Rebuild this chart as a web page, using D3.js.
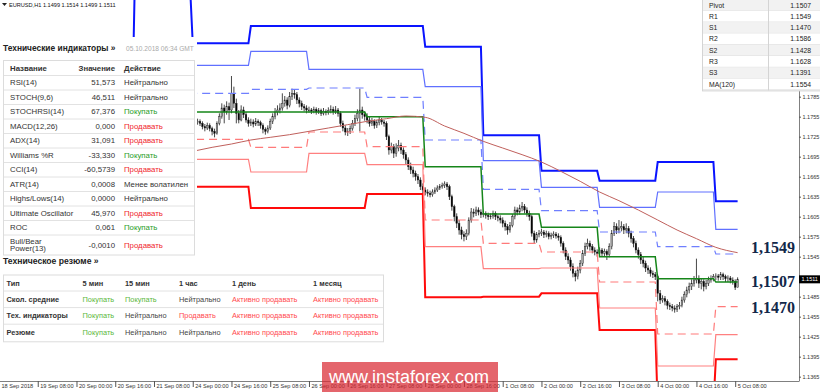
<!DOCTYPE html>
<html>
<head>
<meta charset="utf-8">
<script src="https://cdn.jsdelivr.net/npm/d3@7"></script>
<style>
html, body { margin: 0; padding: 0; background: #fff; }
svg { display: block; font-family: "Liberation Sans", Arial, sans-serif; }
</style>
</head>
<body>
<svg id="chart" width="820" height="392"></svg>
<script>
(function () {

// ---- data ----

// hourly EURUSD bars, first one is 24 Sep 00:00 (bar 80 from 18 Sep 16:00)
var firstBar = 80;
var firstOpen = 1.1752;
var closes = [
	1.1750, 1.1746, 1.1748, 1.1745, 1.1740, 1.1738, 1.1742, 1.1737, 1.1733, 1.1730, 1.1745, 1.1755,
	1.1768, 1.1762, 1.1770, 1.1765, 1.1790, 1.1775, 1.1760, 1.1750, 1.1765, 1.1758, 1.1750, 1.1745,
	1.1747, 1.1744, 1.1748, 1.1746, 1.1742, 1.1736, 1.1733, 1.1738, 1.1748, 1.1755, 1.1762, 1.1765,
	1.1768, 1.1775, 1.1780, 1.1772, 1.1785, 1.1790, 1.1788, 1.1780, 1.1775, 1.1770, 1.1768, 1.1765,
	1.1765, 1.1763, 1.1766, 1.1762, 1.1764, 1.1760, 1.1763, 1.1761, 1.1764, 1.1766, 1.1762, 1.1765,
	1.1760, 1.1745, 1.1738, 1.1732, 1.1733, 1.1737, 1.1745, 1.1752, 1.1760, 1.1765, 1.1758, 1.1755,
	1.1750, 1.1745, 1.1748, 1.1742, 1.1746, 1.1750, 1.1747, 1.1745, 1.1725, 1.1705, 1.1710, 1.1700,
	1.1708, 1.1712, 1.1705, 1.1698, 1.1690, 1.1680, 1.1675, 1.1670, 1.1665, 1.1660, 1.1650, 1.1645,
	1.1642, 1.1640, 1.1638, 1.1642, 1.1645, 1.1648, 1.1650, 1.1652, 1.1654, 1.1650, 1.1635, 1.1620,
	1.1605, 1.1595, 1.1585, 1.1578, 1.1575, 1.1580, 1.1600, 1.1612, 1.1610, 1.1615, 1.1612, 1.1608,
	1.1610, 1.1607, 1.1605, 1.1606, 1.1610, 1.1605, 1.1603, 1.1600, 1.1595, 1.1590, 1.1585, 1.1592,
	1.1605, 1.1615, 1.1612, 1.1618, 1.1620, 1.1615, 1.1610, 1.1605, 1.1580, 1.1570, 1.1578, 1.1580,
	1.1582, 1.1578, 1.1580, 1.1575, 1.1577, 1.1579, 1.1576, 1.1574, 1.1565, 1.1555, 1.1545, 1.1540,
	1.1530, 1.1520, 1.1515, 1.1525, 1.1535, 1.1550, 1.1560, 1.1565, 1.1560, 1.1555, 1.1552, 1.1550,
	1.1555, 1.1550, 1.1553, 1.1548, 1.1560, 1.1580, 1.1590, 1.1585, 1.1588, 1.1590, 1.1585, 1.1587,
	1.1580, 1.1572, 1.1565, 1.1555, 1.1548, 1.1540, 1.1535, 1.1528, 1.1525, 1.1520, 1.1518, 1.1515,
	1.1490, 1.1480, 1.1482, 1.1478, 1.1472, 1.1470, 1.1468, 1.1466, 1.1470, 1.1472, 1.1480, 1.1488,
	1.1495, 1.1500, 1.1505, 1.1510, 1.1512, 1.1505, 1.1508, 1.1500, 1.1505, 1.1510, 1.1512, 1.1515,
	1.1516, 1.1514, 1.1518, 1.1515, 1.1512, 1.1513, 1.1510, 1.1508, 1.1499, 1.1511
];
var highs = [
	1.1756, 1.1753, 1.1752, 1.1751, 1.1748, 1.1744, 1.1746, 1.1745, 1.1740, 1.1737, 1.1748, 1.1760,
	1.1775, 1.1773, 1.1778, 1.1776, 1.1816, 1.1800, 1.1782, 1.1765, 1.1772, 1.1770, 1.1762, 1.1754,
	1.1752, 1.1751, 1.1753, 1.1751, 1.1749, 1.1745, 1.1739, 1.1742, 1.1752, 1.1760, 1.1768, 1.1772,
	1.1775, 1.1790, 1.1786, 1.1784, 1.1792, 1.1797, 1.1795, 1.1792, 1.1784, 1.1779, 1.1774, 1.1772,
	1.1770, 1.1768, 1.1770, 1.1769, 1.1768, 1.1767, 1.1768, 1.1766, 1.1769, 1.1772, 1.1770, 1.1771,
	1.1768, 1.1763, 1.1749, 1.1742, 1.1738, 1.1742, 1.1750, 1.1758, 1.1766, 1.1797, 1.1770, 1.1763,
	1.1760, 1.1755, 1.1753, 1.1751, 1.1750, 1.1755, 1.1753, 1.1750, 1.1748, 1.1728, 1.1716, 1.1714,
	1.1715, 1.1720, 1.1716, 1.1709, 1.1702, 1.1694, 1.1686, 1.1680, 1.1674, 1.1669, 1.1664, 1.1655,
	1.1649, 1.1646, 1.1644, 1.1646, 1.1649, 1.1652, 1.1654, 1.1656, 1.1658, 1.1657, 1.1653, 1.1638,
	1.1623, 1.1610, 1.1600, 1.1590, 1.1583, 1.1586, 1.1604, 1.1618, 1.1617, 1.1620, 1.1619, 1.1616,
	1.1614, 1.1613, 1.1611, 1.1610, 1.1614, 1.1613, 1.1608, 1.1607, 1.1604, 1.1599, 1.1594, 1.1597,
	1.1609, 1.1620, 1.1619, 1.1623, 1.1627, 1.1624, 1.1619, 1.1614, 1.1608, 1.1584, 1.1582, 1.1585,
	1.1587, 1.1585, 1.1584, 1.1583, 1.1581, 1.1583, 1.1582, 1.1580, 1.1577, 1.1568, 1.1559, 1.1550,
	1.1544, 1.1535, 1.1524, 1.1530, 1.1540, 1.1555, 1.1566, 1.1572, 1.1569, 1.1564, 1.1559, 1.1556,
	1.1559, 1.1558, 1.1557, 1.1556, 1.1565, 1.1585, 1.1597, 1.1595, 1.1600, 1.1598, 1.1594, 1.1595,
	1.1591, 1.1584, 1.1576, 1.1569, 1.1559, 1.1552, 1.1545, 1.1539, 1.1532, 1.1529, 1.1524, 1.1522,
	1.1518, 1.1495, 1.1487, 1.1486, 1.1481, 1.1476, 1.1474, 1.1472, 1.1474, 1.1477, 1.1485, 1.1493,
	1.1500, 1.1506, 1.1511, 1.1516, 1.1542, 1.1517, 1.1513, 1.1511, 1.1510, 1.1515, 1.1517, 1.1519,
	1.1520, 1.1519, 1.1522, 1.1521, 1.1518, 1.1517, 1.1516, 1.1514, 1.1511, 1.1514
];
var lows = [
	1.1745, 1.1742, 1.1743, 1.1741, 1.1736, 1.1733, 1.1735, 1.1733, 1.1727, 1.1724, 1.1728, 1.1742,
	1.1752, 1.1745, 1.1758, 1.1750, 1.1760, 1.1768, 1.1745, 1.1745, 1.1748, 1.1753, 1.1746, 1.1740,
	1.1741, 1.1739, 1.1741, 1.1741, 1.1737, 1.1730, 1.1728, 1.1730, 1.1735, 1.1744, 1.1751, 1.1757,
	1.1760, 1.1764, 1.1770, 1.1766, 1.1769, 1.1780, 1.1782, 1.1774, 1.1769, 1.1765, 1.1763, 1.1760,
	1.1761, 1.1759, 1.1760, 1.1758, 1.1759, 1.1756, 1.1757, 1.1757, 1.1758, 1.1760, 1.1758, 1.1759,
	1.1755, 1.1740, 1.1733, 1.1727, 1.1726, 1.1729, 1.1734, 1.1741, 1.1748, 1.1733, 1.1752, 1.1749,
	1.1745, 1.1740, 1.1741, 1.1737, 1.1738, 1.1742, 1.1743, 1.1740, 1.1720, 1.1698, 1.1700, 1.1693,
	1.1695, 1.1703, 1.1699, 1.1692, 1.1684, 1.1675, 1.1669, 1.1664, 1.1659, 1.1654, 1.1645, 1.1639,
	1.1637, 1.1635, 1.1634, 1.1635, 1.1639, 1.1642, 1.1645, 1.1647, 1.1648, 1.1645, 1.1630, 1.1614,
	1.1598, 1.1588, 1.1578, 1.1571, 1.1568, 1.1570, 1.1577, 1.1596, 1.1604, 1.1606, 1.1607, 1.1603,
	1.1604, 1.1602, 1.1600, 1.1601, 1.1602, 1.1600, 1.1598, 1.1595, 1.1589, 1.1584, 1.1578, 1.1581,
	1.1589, 1.1601, 1.1607, 1.1608, 1.1613, 1.1610, 1.1605, 1.1599, 1.1575, 1.1565, 1.1566, 1.1574,
	1.1576, 1.1573, 1.1574, 1.1571, 1.1571, 1.1573, 1.1572, 1.1569, 1.1560, 1.1550, 1.1540, 1.1534,
	1.1524, 1.1514, 1.1508, 1.1511, 1.1520, 1.1531, 1.1546, 1.1556, 1.1554, 1.1550, 1.1547, 1.1545,
	1.1546, 1.1545, 1.1546, 1.1540, 1.1544, 1.1556, 1.1576, 1.1579, 1.1580, 1.1583, 1.1579, 1.1580,
	1.1574, 1.1566, 1.1559, 1.1550, 1.1542, 1.1534, 1.1529, 1.1522, 1.1519, 1.1515, 1.1513, 1.1510,
	1.1478, 1.1474, 1.1476, 1.1472, 1.1466, 1.1465, 1.1463, 1.1461, 1.1462, 1.1466, 1.1469, 1.1476,
	1.1484, 1.1490, 1.1495, 1.1500, 1.1505, 1.1498, 1.1496, 1.1493, 1.1496, 1.1501, 1.1506, 1.1508,
	1.1510, 1.1509, 1.1510, 1.1510, 1.1507, 1.1507, 1.1505, 1.1503, 1.1495, 1.1499
];

// daily pivot levels, one value per trading day (20 Sep .. 5 Oct)
var dayStarts = [32, 56, 80, 104, 128, 152, 176, 200, 224, 248, 272, 296];
var pivotP  = [1.1670, 1.1743, 1.1762, 1.1762, 1.1762, 1.1755, 1.1680, 1.1609, 1.1589, 1.1545, 1.1512, 1.1507];
var pivotR1 = [1.1700, 1.1820, 1.1790, 1.1796, 1.1798, 1.1784, 1.1720, 1.1646, 1.1614, 1.1582, 1.1560, 1.1549];
var pivotR2 = [1.1730, 1.1865, 1.1832, 1.1853, 1.1826, 1.1826, 1.1800, 1.1689, 1.1649, 1.1619, 1.1642, 1.1586];
var pivotR3 = [1.1760, 1.1942, 1.1865, 1.1891, 1.1891, 1.1891, 1.1860, 1.1727, 1.1674, 1.1659, 1.1687, 1.1628];
var pivotS1 = [1.1640, 1.1698, 1.1721, 1.1709, 1.1732, 1.1710, 1.1600, 1.1565, 1.1552, 1.1507, 1.1429, 1.1470];
var pivotS2 = [1.1610, 1.1621, 1.1691, 1.1672, 1.1700, 1.1683, 1.1560, 1.1527, 1.1528, 1.1468, 1.1381, 1.1428];
var pivotS3 = [1.1580, 1.1576, 1.1650, 1.1618, 1.1618, 1.1639, 1.1484, 1.1485, 1.1490, 1.1435, 1.1320, 1.1391];

// MA(120) read at every 8th bar
var maBars   = [80, 88, 96, 104, 112, 120, 128, 136, 144, 152, 160, 168, 176, 184, 192, 200, 208,
	216, 224, 232, 240, 248, 256, 264, 272, 280, 288, 296, 305];
var maValues = [1.1703, 1.1709, 1.1714, 1.1720, 1.1724, 1.1728, 1.1733, 1.1738, 1.1743, 1.1748, 1.1752,
	1.1756, 1.1754, 1.1741, 1.1730, 1.1718, 1.1708, 1.1698, 1.1687, 1.1673, 1.1658, 1.1642, 1.1629,
	1.1615, 1.1600, 1.1585, 1.1572, 1.1559, 1.1551];

var levelLabels = [1.1549, 1.1507, 1.1470];
var lastPrice = 1.1511;

// price labels visible on the axis (others sit under the pivot table / price marker)
var yTicks = [1.1365, 1.1395, 1.1425, 1.1455, 1.1485, 1.1545, 1.1575, 1.1605, 1.1635,
	1.1665, 1.1695, 1.1725, 1.1755, 1.1785];
var xTickLabels = ['18 Sep 2018', '19 Sep 08:00', '20 Sep 00:00', '20 Sep 16:00', '21 Sep 08:00',
	'24 Sep 00:00', '24 Sep 16:00', '25 Sep 08:00', '26 Sep 00:00', '26 Sep 16:00', '27 Sep 08:00',
	'28 Sep 00:00', '28 Sep 16:00', '1 Oct 08:00', '2 Oct 00:00', '2 Oct 16:00', '3 Oct 08:00',
	'4 Oct 00:00', '4 Oct 16:00', '5 Oct 08:00'];

// technical indicators panel
var indNames = ['RSI(14)', 'STOCH(9,6)', 'STOCHRSI(14)', 'MACD(12,26)', 'ADX(14)', 'Williams %R',
	'CCI(14)', 'ATR(14)', 'Highs/Lows(14)', 'Ultimate Oscillator', 'ROC', 'Bull/Bear|Power(13)'];
var indValues = ['51,573', '46,511', '67,376', '0,000', '31,091', '-33,330', '-60,5739', '0,0008',
	'0,0000', '45,970', '0,061', '-0,0010'];
var indActions = ['Нейтрально', 'Нейтрально', 'Покупать', 'Продавать', 'Продавать', 'Покупать',
	'Продавать', 'Менее волатилен', 'Нейтрально', 'Продавать', 'Покупать', 'Продавать'];

// technical summary panel
var sumHeader = ['Тип', '5 мин', '15 мин', '1 час', '1 день', '1 месяц'];
var sumRows = ['Скол. средние', 'Тех. индикаторы', 'Резюме'];
var sumMA    = ['Покупать', 'Покупать', 'Нейтрально', 'Активно продавать', 'Активно продавать'];
var sumTech  = ['Покупать', 'Нейтрально', 'Продавать', 'Активно продавать', 'Активно продавать'];
var sumTotal = ['Покупать', 'Нейтрально', 'Нейтрально', 'Активно продавать', 'Активно продавать'];

// pivot table (top right)
var pivotNames = ['Pivot', 'R1', 'S1', 'R2', 'S2', 'R3', 'S3', 'MA(120)'];
var pivotVals = [1.1507, 1.1549, 1.1470, 1.1586, 1.1428, 1.1628, 1.1391, 1.1554];

// ---- drawing ----

var svg = d3.select('#chart');
var plotRight = 799, plotBottom = 381;
var sans = '"Liberation Sans", Arial, sans-serif';

var x = d3.scaleLinear().domain([0, 304]).range([-1, 735.2]);
var y = d3.scaleLinear().domain([1.13585, 1.1930]).range([plotBottom, 0]);

svg.append('defs').append('clipPath').attr('id', 'plotclip')
	.append('rect').attr('x', 0).attr('y', 0).attr('width', plotRight).attr('height', plotBottom);

var plot = svg.append('g').attr('clip-path', 'url(#plotclip)');

var bars = closes.map(function (c, k) {
	return { i: firstBar + k, o: k ? closes[k - 1] : firstOpen, h: highs[k], l: lows[k], c: c };
});

var candles = plot.append('g').selectAll('g')
	.data(bars)
	.join('g');
candles.append('line')
	.attr('x1', function (d) { return x(d.i); })
	.attr('x2', function (d) { return x(d.i); })
	.attr('y1', function (d) { return y(d.h); })
	.attr('y2', function (d) { return y(d.l); })
	.attr('stroke', '#333')
	.attr('stroke-width', 0.9);
candles.append('rect')
	.attr('x', function (d) { return x(d.i) - 0.8; })
	.attr('width', 1.6)
	.attr('y', function (d) { return y(Math.max(d.o, d.c)); })
	.attr('height', function (d) { return Math.max(0.8, Math.abs(y(d.o) - y(d.c))); })
	.attr('fill', function (d) { return d.c >= d.o ? '#a8a8a8' : '#000'; })
	.attr('stroke', '#222')
	.attr('stroke-width', 0.4);

var lastBar = firstBar + closes.length - 1;
var stepLine = d3.line()
	.x(function (d) { return x(d[0]); })
	.y(function (d) { return y(d[1]); });

function levelPoints(vals) {
	var pts = [];
	vals.forEach(function (v, d) {
		var end = d + 1 < dayStarts.length ? dayStarts[d + 1] - 1 : lastBar;
		pts.push([dayStarts[d], v], [end, v]);
	});
	return pts;
}

var levels = [
	{ vals: pivotS3, color: '#ff0a0a', width: 2,   dash: null },
	{ vals: pivotS2, color: '#ff8080', width: 1.2, dash: null },
	{ vals: pivotS1, color: '#ff7a7a', width: 1.2, dash: '8,5' },
	{ vals: pivotR3, color: '#0a14ff', width: 2,   dash: null },
	{ vals: pivotR2, color: '#6070ff', width: 1.2, dash: null },
	{ vals: pivotR1, color: '#6f7fff', width: 1.2, dash: '8,5' },
	{ vals: pivotP,  color: '#16861a', width: 1.5, dash: null }
];

plot.append('g').selectAll('path')
	.data(levels)
	.join('path')
	.attr('d', function (d) { return stepLine(levelPoints(d.vals)); })
	.attr('fill', 'none')
	.attr('stroke', function (d) { return d.color; })
	.attr('stroke-width', function (d) { return d.width; })
	.attr('stroke-dasharray', function (d) { return d.dash; });

var maLine = d3.line()
	.x(function (d) { return x(d[0]); })
	.y(function (d) { return y(d[1]); })
	.curve(d3.curveMonotoneX);
plot.append('path')
	.attr('d', maLine(d3.zip(maBars, maValues)))
	.attr('fill', 'none')
	.attr('stroke', '#c0605c')
	.attr('stroke-width', 1);

// big level labels on the right of the plot
var labelShift = [-7, -1, 1];
plot.append('g').selectAll('text')
	.data(levelLabels)
	.join('text')
	.attr('x', 751)
	.attr('y', function (d, i) { return y(d) + labelShift[i]; })
	.attr('dy', '0.35em')
	.attr('font-family', '"Liberation Serif", "Times New Roman", serif')
	.attr('font-weight', 'bold')
	.attr('font-size', 16)
	.attr('fill', '#12284a')
	.text(function (d) { return d.toFixed(4).replace('.', ','); });

// price axis
var yAxis = d3.axisRight(y)
	.tickValues(yTicks)
	.tickSize(2)
	.tickSizeOuter(0)
	.tickPadding(1.5)
	.tickFormat(d3.format('.4f'));
var gy = svg.append('g').attr('transform', 'translate(' + plotRight + ',0)').call(yAxis);
gy.select('.domain').attr('stroke', '#808080');
gy.selectAll('.tick line').attr('stroke', '#555');
gy.selectAll('.tick text')
	.attr('font-family', sans)
	.attr('font-size', 5.5)
	.attr('fill', '#333');

// current price marker
var pm = svg.append('g').attr('transform', 'translate(' + plotRight + ',' + y(lastPrice) + ')');
pm.append('rect').attr('x', 0).attr('y', -4).attr('width', 21).attr('height', 8).attr('fill', '#000');
pm.append('text').attr('x', 2.5).attr('dy', '0.35em')
	.attr('font-family', sans).attr('font-size', 5.5).attr('fill', '#fff')
	.text(lastPrice.toFixed(4));

// time axis
var xAxis = d3.axisBottom(x)
	.tickValues(xTickLabels.map(function (d, i) { return i * 16; }))
	.tickSize(6)
	.tickSizeOuter(0)
	.tickFormat(function (d, i) { return xTickLabels[i]; });
var gx = svg.append('g').attr('transform', 'translate(0,' + plotBottom + ')').call(xAxis);
gx.select('.domain').attr('d', 'M0,0.5H' + plotRight).attr('stroke', '#808080');
gx.selectAll('.tick line').attr('stroke', '#555');
gx.selectAll('.tick text')
	.attr('text-anchor', 'start')
	.attr('x', 2)
	.attr('y', 5)
	.attr('dy', '0.35em')
	.attr('font-family', sans)
	.attr('font-size', 5.6)
	.attr('fill', '#333');

// symbol header
svg.append('path').attr('d', 'M2,3H7L4.5,6Z').attr('fill', '#222');
svg.append('text').attr('x', 9).attr('y', 7)
	.attr('font-family', sans).attr('font-size', 5.6).attr('fill', '#111')
	.text('EURUSD,H1  1.1499 1.1514 1.1499 1.1511');

// ---- technical indicators panel ----
var actionColor = function (a) {
	if (a === 'Покупать') return '#2a9d2a';
	if (a === 'Продавать' || a === 'Активно продавать') return '#f0262c';
	return '#333';
};

var panel = svg.append('g');
panel.append('rect').attr('x', 0).attr('y', 37).attr('width', 197).attr('height', 220).attr('fill', '#fff');
panel.append('rect').attr('x', 0).attr('y', 254).attr('width', 386).attr('height', 89).attr('fill', '#fff');

panel.append('text').attr('x', 3).attr('y', 51)
	.attr('font-size', 8.4).attr('font-weight', 'bold').attr('fill', '#222')
	.text('Технические индикаторы »');
panel.append('text').attr('x', 126).attr('y', 50.5)
	.attr('font-size', 6.6).attr('fill', '#aaa')
	.text('05.10.2018 06:34 GMT');

var t1Top = 60.5, headH = 15, rowH = 14.5;
var t1Bottom = t1Top + headH + rowH * 11 + 20;
panel.append('rect').attr('x', 3.5).attr('y', t1Top).attr('width', 191).attr('height', t1Bottom - t1Top)
	.attr('fill', 'none').attr('stroke', '#dcdcdc');

var head1 = panel.append('g').attr('font-size', 7.8).attr('font-weight', 'bold').attr('fill', '#333');
head1.append('text').attr('x', 10).attr('y', t1Top + headH / 2).attr('dy', '0.35em').text('Название');
head1.append('text').attr('x', 115).attr('y', t1Top + headH / 2).attr('dy', '0.35em')
	.attr('text-anchor', 'end').text('Значение');
head1.append('text').attr('x', 124).attr('y', t1Top + headH / 2).attr('dy', '0.35em').text('Действие');

indNames.forEach(function (name, k) {
	var top = t1Top + headH + k * rowH;
	var h = k === indNames.length - 1 ? 20 : rowH;
	var cy = top + h / 2;
	panel.append('line').attr('x1', 4).attr('x2', 194).attr('y1', top).attr('y2', top)
		.attr('stroke', '#e2e2e2');
	var parts = name.split('|');
	parts.forEach(function (p, j) {
		panel.append('text').attr('x', 10)
			.attr('y', cy + (j - (parts.length - 1) / 2) * 7.5).attr('dy', '0.35em')
			.attr('font-size', 7.8).attr('fill', '#333').text(p);
	});
	panel.append('text').attr('x', 115).attr('y', cy).attr('dy', '0.35em')
		.attr('text-anchor', 'end').attr('font-size', 7.8).attr('fill', '#333').text(indValues[k]);
	panel.append('text').attr('x', 124).attr('y', cy).attr('dy', '0.35em')
		.attr('font-size', 7.8).attr('fill', actionColor(indActions[k])).text(indActions[k]);
});

// ---- technical summary panel ----
panel.append('text').attr('x', 3).attr('y', 264)
	.attr('font-size', 8.6).attr('font-weight', 'bold').attr('fill', '#222')
	.text('Техническое резюме »');

var colX = [6.5, 82.5, 125, 179, 232, 313];
var t2Top = 275, t2Head = 16, t2Row = 16.6;
panel.append('rect').attr('x', 3.5).attr('y', t2Top).attr('width', 380).attr('height', t2Head + t2Row * 3 + 1)
	.attr('fill', 'none').attr('stroke', '#dcdcdc');
sumHeader.forEach(function (h, c) {
	panel.append('text').attr('x', colX[c]).attr('y', t2Top + t2Head / 2 + 0.5).attr('dy', '0.35em')
		.attr('font-size', 7.4).attr('font-weight', 'bold').attr('fill', '#333').text(h);
});
var sumData = [sumMA, sumTech, sumTotal];
var sumColor = function (a) {
	if (a === 'Покупать') return '#5cb83c';
	if (a === 'Продавать' || a === 'Активно продавать') return '#ff4a4f';
	return '#444';
};
sumRows.forEach(function (r, k) {
	var top = t2Top + t2Head + k * t2Row;
	var cy = top + t2Row / 2;
	panel.append('line').attr('x1', 4).attr('x2', 383).attr('y1', top).attr('y2', top).attr('stroke', '#e2e2e2');
	panel.append('text').attr('x', colX[0]).attr('y', cy).attr('dy', '0.35em')
		.attr('font-size', 7.4).attr('font-weight', 'bold').attr('fill', '#333').text(r);
	sumData[k].forEach(function (v, c) {
		panel.append('text').attr('x', colX[c + 1]).attr('y', cy).attr('dy', '0.35em')
			.attr('font-size', 7.4).attr('fill', sumColor(v)).text(v);
	});
});

// ---- pivot table (top right) ----
var pt = svg.append('g');
var ptRow = 11.3;
pt.append('rect').attr('x', 702.5).attr('y', -0.5).attr('width', 118).attr('height', ptRow * 8 + 1)
	.attr('fill', '#fff').attr('stroke', '#d4d4d4');
pivotNames.forEach(function (n, k) {
	var top = -0.5 + k * ptRow;
	pt.append('rect').attr('x', 703).attr('y', top).attr('width', 117).attr('height', ptRow)
		.attr('fill', k % 2 === 0 ? '#f2f2f2' : '#fff');
	pt.append('line').attr('x1', 703).attr('x2', 820).attr('y1', top + ptRow).attr('y2', top + ptRow)
		.attr('stroke', '#dedede');
	pt.append('text').attr('x', 709).attr('y', top + ptRow / 2).attr('dy', '0.35em')
		.attr('font-size', 6.8).attr('fill', '#222').text(n);
	pt.append('text').attr('x', 811).attr('y', top + ptRow / 2).attr('dy', '0.35em')
		.attr('text-anchor', 'end').attr('font-size', 6.8).attr('fill', '#222').text(pivotVals[k].toFixed(4));
});
pt.append('line').attr('x1', 768.5).attr('x2', 768.5).attr('y1', 0).attr('y2', ptRow * 8)
	.attr('stroke', '#d4d4d4');

// ---- watermark ----
var wm = svg.append('g');
wm.append('rect').attr('x', 322).attr('y', 362).attr('width', 176).attr('height', 30)
	.attr('fill', '#d92a33').attr('opacity', 0.72);
wm.append('text').attr('x', 409).attr('y', 383).attr('text-anchor', 'middle')
	.attr('font-size', 18).attr('fill', '#fff')
	.text('www.instaforex.com');

})();
</script>
</body>
</html>
